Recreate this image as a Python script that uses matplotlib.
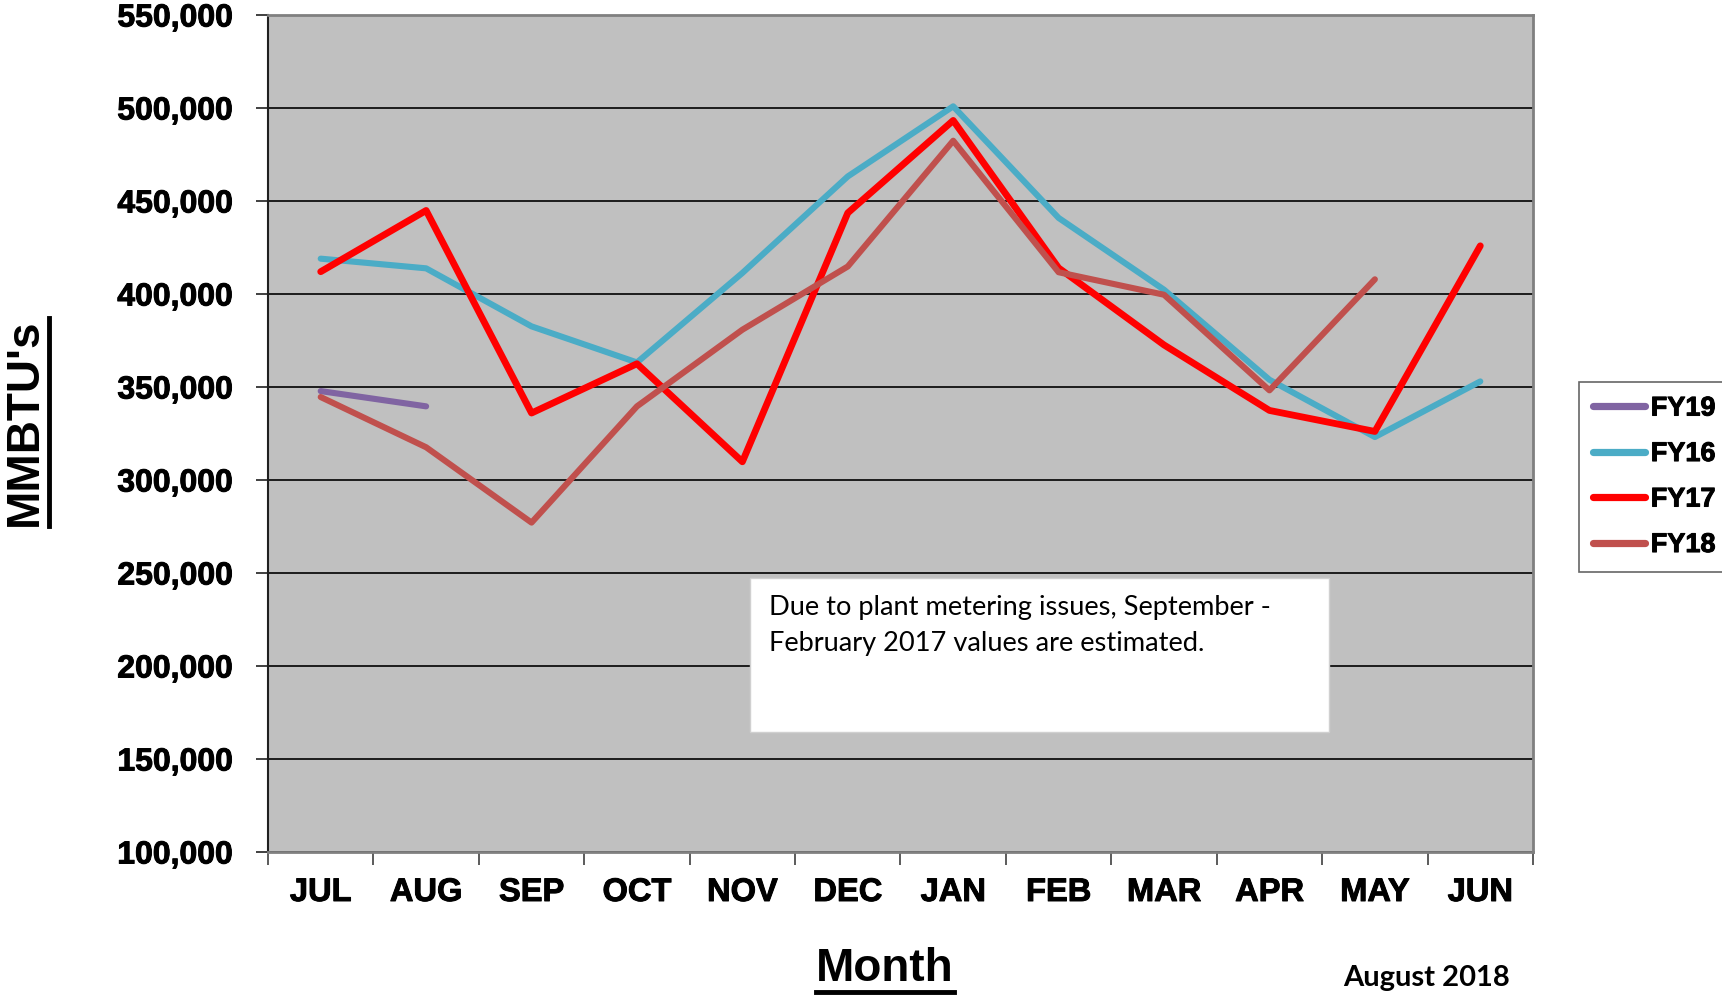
import matplotlib.pyplot as plt
import matplotlib.patheffects as pe
from matplotlib.lines import Line2D

months = ['JUL', 'AUG', 'SEP', 'OCT', 'NOV', 'DEC', 'JAN', 'FEB', 'MAR', 'APR', 'MAY', 'JUN']
fy19 = [347800, 339600]
fy16 = [419000, 413800, 382600, 363200, 411300, 463200, 500900, 440900, 402300, 353900, 323100, 353000]
fy17 = [412000, 444900, 336000, 362500, 309800, 443600, 493300, 414000, 372600, 337400, 326100, 425900]
fy18 = [344600, 317600, 277100, 339600, 380800, 414800, 482400, 411700, 399600, 348200, 407900]
yticks = list(range(100000, 550001, 50000))

plt.rcParams['font.family'] = ['Liberation Sans', 'DejaVu Sans']
thick = [pe.withStroke(linewidth=0.7, foreground='black')]

fig = plt.figure(figsize=(17.22, 9.98), dpi=100)
ax = fig.add_axes([268 / 1722, 1 - 852 / 998, (1533 - 268) / 1722, (852 - 15) / 998])
ax.set_facecolor('#c0c0c0')

ax.plot(range(len(fy19)), fy19, color='#8064a2', lw=4.4, solid_capstyle='round', label='FY19', zorder=3)
ax.plot(range(len(fy16)), fy16, color='#4bacc6', lw=4.4, solid_capstyle='round', label='FY16', zorder=3)
ax.plot(range(len(fy17)), fy17, color='#ff0000', lw=4.9, solid_capstyle='round', label='FY17', zorder=3)
ax.plot(range(len(fy18)), fy18, color='#c0504d', lw=4.4, solid_capstyle='round', label='FY18', zorder=3)

ax.set_xlim(-0.5, len(months) - 0.5)
ax.set_ylim(100000, 550000)
ax.set_yticks(yticks)
ax.set_yticklabels([f'{v:,}' for v in yticks], fontsize=23, fontweight='bold')
ax.yaxis.grid(True, color='#000000', lw=1.2)
ax.set_axisbelow(True)

ax.set_xticks([i - 0.5 for i in range(len(months) + 1)])
ax.set_xticklabels([])
ax.set_xticks(range(len(months)), minor=True)
ax.set_xticklabels(months, minor=True, fontsize=23.5, fontweight='bold')
ax.tick_params(axis='x', which='major', length=9, width=1.2, color='#404040', direction='out')
ax.tick_params(axis='x', which='minor', length=0, pad=18)
ax.tick_params(axis='y', length=9, width=1.2, color='#202020', pad=16)
for t in ax.get_yticklabels() + ax.get_xticklabels(minor=True):
    t.set_path_effects(thick)

for side in ['top', 'right', 'bottom']:
    ax.spines[side].set_color('#808080')
    ax.spines[side].set_linewidth(2)
ax.spines['left'].set_color('#202020')
ax.spines['left'].set_linewidth(1.5)

leg = fig.legend(loc='upper left', bbox_to_anchor=(1579 / 1722, 1 - 382 / 998),
                 prop={'weight': 'bold', 'size': 19.5}, frameon=True, fancybox=False,
                 handlelength=1.95, handletextpad=0.2, labelspacing=0.72,
                 borderpad=0.5, borderaxespad=0)
leg.get_frame().set_edgecolor('#404040')
leg.get_frame().set_linewidth(1.2)
for h in leg.get_lines():
    h.set_linewidth(5.2)
    h.set_solid_capstyle('round')
for t in leg.get_texts():
    t.set_path_effects(thick)

box = plt.Rectangle(((750 - 268) / 1265, (852 - 732) / 837), (1329 - 750) / 1265, (732 - 578) / 837,
                    transform=ax.transAxes, facecolor='white', edgecolor='#d0d0d0', lw=1, zorder=4)
ax.add_patch(box)
ax.text((769 - 268) / 1265, (852 - 595) / 837,
        'Due to plant metering issues, September -\nFebruary 2017 values are estimated.',
        transform=ax.transAxes, fontsize=19.6, family=['Lato', 'DejaVu Sans'],
        va='top', ha='left', linespacing=1.55, zorder=5)

ylab = fig.text(25 / 1722, 1 - 422 / 998, "MMBTU's", rotation=90, fontsize=33, fontweight='bold',
                ha='center', va='center')
xlab = fig.text(885 / 1722, 1 - 969 / 998, 'Month', fontsize=33, fontweight='bold',
                ha='center', va='center')
fig.text(1427 / 1722, 1 - 978 / 998, 'August 2018', fontsize=21, fontweight='bold',
         family=['Lato', 'DejaVu Sans'], ha='center', va='center')

# underlines for the axis titles
fig.canvas.draw()
r = fig.canvas.get_renderer()
bb = xlab.get_window_extent(r)
fig.add_artist(Line2D([bb.x0 / 1722, bb.x1 / 1722], [(bb.y0 - 1) / 998] * 2, color='black', lw=3.5))
bb = ylab.get_window_extent(r)
fig.add_artist(Line2D([(bb.x1 + 2) / 1722] * 2, [bb.y0 / 998, bb.y1 / 998], color='black', lw=3.5))

fig.savefig('out.png', dpi=100)
